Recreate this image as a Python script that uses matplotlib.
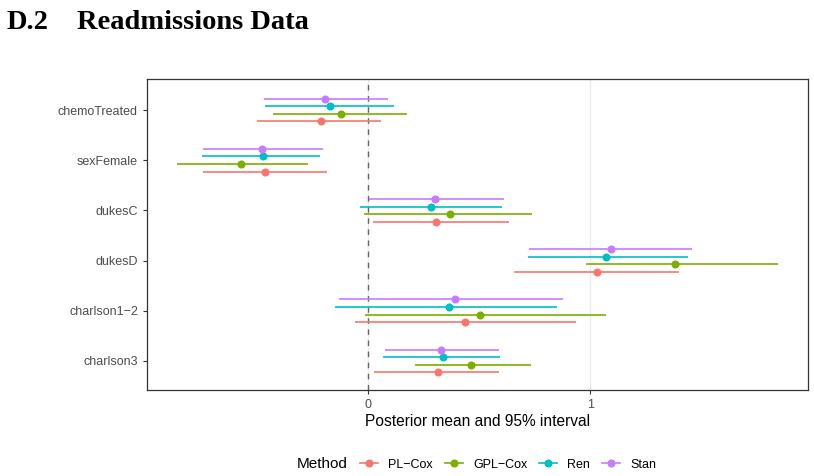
import numpy as np
import matplotlib
matplotlib.use("Agg")
import matplotlib.pyplot as plt
from matplotlib.lines import Line2D

plt.rcParams['font.family'] = ['Liberation Sans', 'DejaVu Sans']

# covariates, top to bottom
variables = ['chemoTreated', 'sexFemale', 'dukesC', 'dukesD', 'charlson1\u22122', 'charlson3']
methods = ['PL\u2212Cox', 'GPL\u2212Cox', 'Ren', 'Stan']
colors = ['#F8766D', '#7CAE00', '#00BFC4', '#C77CFF']

# posterior mean, lower and upper 95% for each method (rows follow variables)
pl_mean = [-0.212, -0.465, 0.306, 1.032, 0.434, 0.315]
pl_lo = [-0.502, -0.745, 0.021, 0.659, -0.059, 0.026]
pl_hi = [0.056, -0.186, 0.634, 1.401, 0.934, 0.590]

gpl_mean = [-0.122, -0.574, 0.369, 1.380, 0.502, 0.464]
gpl_lo = [-0.426, -0.860, -0.018, 0.979, -0.015, 0.209]
gpl_hi = [0.174, -0.272, 0.737, 1.845, 1.071, 0.734]

ren_mean = [-0.171, -0.473, 0.284, 1.072, 0.366, 0.336]
ren_lo = [-0.463, -0.746, -0.036, 0.721, -0.149, 0.068]
ren_hi = [0.116, -0.216, 0.605, 1.441, 0.851, 0.593]

stan_mean = [-0.195, -0.476, 0.302, 1.095, 0.393, 0.329]
stan_lo = [-0.467, -0.742, 0.003, 0.725, -0.131, 0.074]
stan_hi = [0.089, -0.204, 0.611, 1.458, 0.878, 0.590]

means = [pl_mean, gpl_mean, ren_mean, stan_mean]
lows = [pl_lo, gpl_lo, ren_lo, stan_lo]
highs = [pl_hi, gpl_hi, ren_hi, stan_hi]

fig = plt.figure(figsize=(8.14, 4.76), dpi=100)
ax = fig.add_axes([147/814, 86/476, 661/814, 311/476])

ypos = np.arange(len(variables))
offsets = [0.225, 0.075, -0.075, -0.225]  # PL lowest, Stan highest (axis is inverted)

ax.axvline(0, color='#EBEBEB', lw=1.0, zorder=0)
ax.axvline(1, color='#EBEBEB', lw=1.0, zorder=0)
ax.axvline(0, color='#666666', lw=1.0, ls=(0, (4, 4)), zorder=1)

for m, col, off, mu, lo, hi in zip(methods, colors, offsets, means, lows, highs):
    y = ypos + off
    ax.hlines(y, lo, hi, color=col, lw=1.2, zorder=2)
    ax.plot(mu, y, 'o', color=col, ms=4.8, zorder=3)

ax.set_yticks(ypos)
ax.set_yticklabels(variables)
ax.set_ylim(len(variables) - 1 + 0.58, -0.62)
ax.set_xlim(-0.995, 1.98)
ax.set_xticks([0, 1])
ax.set_xticklabels(['0', '1'])
ax.tick_params(colors='#333333', labelcolor='#4D4D4D', labelsize=9, length=3)
ax.set_xlabel('Posterior mean and 95% interval', fontsize=11.2, labelpad=2)
for s in ax.spines.values():
    s.set_color('#333333')
    s.set_linewidth(0.9)

fig.text(0.008, 0.94, 'D.2', family='Liberation Serif', weight='bold', fontsize=20.5)
fig.text(0.094, 0.94, 'Readmissions Data', family='Liberation Serif', weight='bold', fontsize=20.5)

handles = [Line2D([0], [0], color=c, lw=1.2, marker='o', ms=4.8) for c in colors]
fig.text(297/814, 0.016, 'Method', fontsize=11)
fig.legend(handles, methods, ncol=4, frameon=False, loc='lower left',
           bbox_to_anchor=(354/814, -0.002), fontsize=9, handlelength=1.45,
           handletextpad=0.8, columnspacing=0.95, borderpad=0.0)

fig.savefig('out.png', dpi=100)
